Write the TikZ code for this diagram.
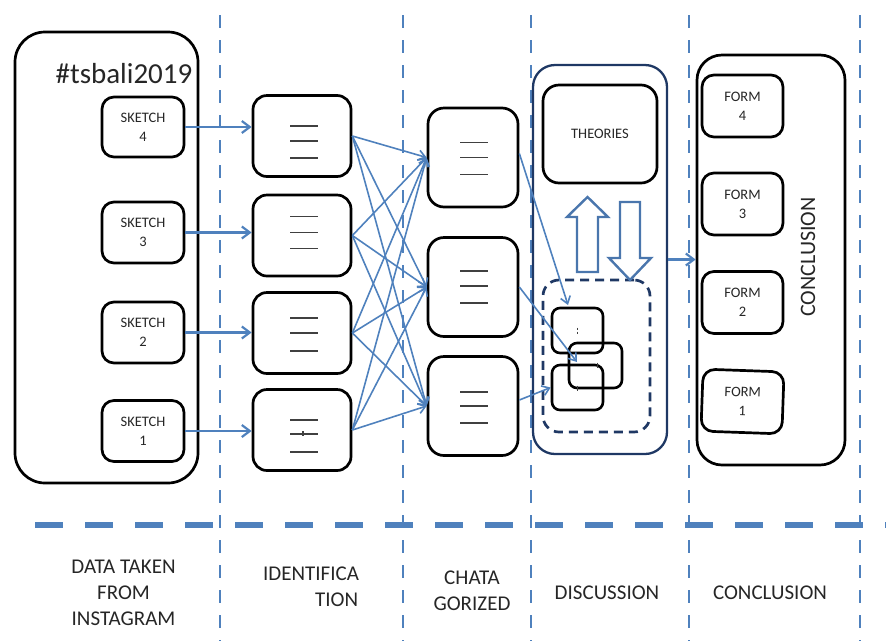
\documentclass[tikz,border=0pt]{standalone}
\usepackage{fontspec}
\setmainfont{Carlito}
\usetikzlibrary{arrows.meta,calc}
\definecolor{dashblue}{HTML}{4F81BD}
\definecolor{arrblue}{HTML}{4F81BD}
\definecolor{navyc}{HTML}{1F3864}
\definecolor{blkarrc}{HTML}{4A76AD}
\definecolor{txtc}{HTML}{262626}
\begin{document}
\begin{tikzpicture}[x=1pt,y=-1pt,
  rbox/.style={draw=black, line width=2.7pt, rounded corners=#1, inner sep=0pt, align=center, text=txtc},
  rbox/.default=12pt,
  lbl/.style={font=\fontsize{14.5}{19}\selectfont},
  bottomlbl/.style={font=\fontsize{21}{26}\selectfont, text=txtc, align=center, inner sep=0pt},
  vdash/.style={draw=dashblue, line width=2.8pt, dash pattern=on 13pt off 12pt},
  hdash/.style={draw=dashblue, line width=6pt, dash pattern=on 28pt off 22pt},
  arr/.style={draw=arrblue, line width=2.2pt, -{Straight Barb[length=8pt,width=12pt]}},
  xarr/.style={draw=arrblue, line width=1.6pt, -{Straight Barb[length=7pt,width=10pt]}},
  tline/.style={draw=black!75, line width=1.1pt},
  blk/.style={draw=blkarrc, line width=2.4pt, fill=white, line join=miter},
  sbox/.style={draw=black, line width=2.6pt, rounded corners=8pt, minimum width=51pt, minimum height=45pt, inner sep=0pt},
]
\useasboundingbox (0,0) rectangle (886,641);

% dashed separators
\foreach \x in {220,403,531,689,860} \draw[vdash] (\x,15) -- (\x,641);
\draw[hdash] (35,525) -- (886,525);

% left column
\node[rbox=30pt, minimum width=183pt, minimum height=451pt] (insta) at (106.5,257.5) {};
\node[font=\fontsize{29}{34}\selectfont, text=txtc, inner sep=0pt] (tag) at (124,74) {\#tsbali2019};
\node[rbox, lbl, minimum width=82pt, minimum height=60pt] (sk4) at (143,127) {SKETCH\\4};
\node[rbox, lbl, minimum width=82pt, minimum height=61pt] (sk3) at (143,232.5) {SKETCH\\3};
\node[rbox, lbl, minimum width=82pt, minimum height=61pt] (sk2) at (143,332.5) {SKETCH\\2};
\node[rbox, lbl, minimum width=82pt, minimum height=61pt] (sk1) at (143,431) {SKETCH\\1};

% identification
\node[rbox=14pt, minimum width=98pt, minimum height=81pt] (id1) at (302,136) {};
\node[rbox=14pt, minimum width=98pt, minimum height=81pt] (id2) at (302,235.5) {};
\node[rbox=14pt, minimum width=98pt, minimum height=81pt] (id3) at (302,333) {};
\node[rbox=14pt, minimum width=98pt, minimum height=81pt] (id4) at (302,430) {};
\foreach \n/\a/\b/\c in {id1/-10/5/22, id2/-19/-3/13, id3/-15/0/18, id4/-10/4/22}{
  \draw[tline] ($(\n)+(-12,\a)$) -- ++(28,0);
  \draw[tline] ($(\n)+(-12,\b)$) -- ++(28,0);
  \draw[tline] ($(\n)+(-12,\c)$) -- ++(28,0);
}
\draw[tline] ($(id4)+(1,1)$) -- ++(0,5);

% categorized
\node[rbox=16pt, minimum width=90pt, minimum height=99pt] (catA) at (473,157.5) {};
\node[rbox=16pt, minimum width=90pt, minimum height=99pt] (catB) at (473,287) {};
\node[rbox=16pt, minimum width=90pt, minimum height=99pt] (catC) at (473,406) {};
\foreach \n/\a/\b/\c in {catA/-15/0/17, catB/-16/-1/16, catC/-14/0/17}{
  \draw[tline] ($(\n)+(-13,\a)$) -- ++(28,0);
  \draw[tline] ($(\n)+(-13,\b)$) -- ++(28,0);
  \draw[tline] ($(\n)+(-13,\c)$) -- ++(28,0);
}

% discussion
\node[draw=navyc, line width=2.3pt, rounded corners=22pt, minimum width=134pt, minimum height=389pt, inner sep=0pt] (disc) at (600,259.5) {};
\node[rbox=16pt, lbl, minimum width=114pt, minimum height=98pt] (theo) at (600,134) {THEORIES};
\node[draw=navyc, line width=2.7pt, dash pattern=on 9pt off 6pt, rounded corners=16pt, minimum width=107pt, minimum height=152pt, inner sep=0pt] (pool) at (596.5,356) {};
\node[sbox] (sb1) at (577.5,330.5) {};
\node[sbox, minimum width=53pt] (sb2) at (595.5,365.5) {};
\node[sbox] (sb3) at (577.5,387.5) {};
\draw[tline, line width=0.8pt] ($(sb1)+(0,-3)$) -- ++(0,2) ($(sb1)+(0,1)$) -- ++(0,2);
\draw[tline, line width=0.8pt] ($(sb2)+(2,-3)$) -- ++(0,5);
\draw[tline, line width=0.8pt] ($(sb3)+(0,-2)$) -- ++(0,5);
\draw[blk] (577,272) -- (577,217) -- (567,217) -- (587.5,197) -- (608,217) -- (598,217) -- (598,272) -- cycle;
\draw[blk] (620,202) -- (640,202) -- (640,258) -- (651,258) -- (630,280) -- (609,258) -- (620,258) -- cycle;

% conclusion
\node[rbox=25pt, minimum width=148pt, minimum height=410pt] (concl) at (771,260) {};
\node[rbox, lbl, minimum width=81pt, minimum height=62pt] (f4) at (742.5,106) {FORM\\4};
\node[rbox, lbl, minimum width=81pt, minimum height=62pt] (f3) at (742.5,204) {FORM\\3};
\node[rbox, lbl, minimum width=81pt, minimum height=62pt] (f2) at (742.5,302.5) {FORM\\2};
\node[rbox, lbl, minimum width=81pt, minimum height=62pt, rotate=-2] (f1) at (742.5,401.5) {FORM\\1};
\node[font=\fontsize{22}{26}\selectfont, text=txtc, rotate=90, inner sep=0pt] (cword) at (808,257) {CONCLUSION};

% connectors
\foreach \s/\t in {sk4/id1, sk3/id2, sk2/id3, sk1/id4}
  \draw[arr] (\s.east) -- (\s.east -| \t.west);
\foreach \s in {id1,id2,id3,id4}
  \foreach \t in {catA,catB,catC}
    \draw[xarr] (\s.east) -- (\t.west);
\coordinate (endA) at (568,305);
\coordinate (endB) at (577,362);
\draw[xarr] ([yshift=4pt]catA.east) -- (endA);
\draw[xarr] (catB.east) -- (endB);
\draw[xarr] ([yshift=6pt]catC.east) -- (sb3.west);
\draw[arr] (disc.east) -- (disc.east -| concl.west);

% bottom labels
\node[bottomlbl] (l1) at (123.5,593) {DATA TAKEN\\FROM\\INSTAGRAM};
\node[bottomlbl, align=left, anchor=north west] (l2) at (263,567) {IDENTIFICA\\\hspace*{52pt}TION};
\node[bottomlbl] (l3) at (472,591) {CHATA\\GORIZED};
\node[bottomlbl] (l4) at (607,593) {DISCUSSION};
\node[bottomlbl] (l5) at (770,593) {CONCLUSION};
\end{tikzpicture}
\end{document}
